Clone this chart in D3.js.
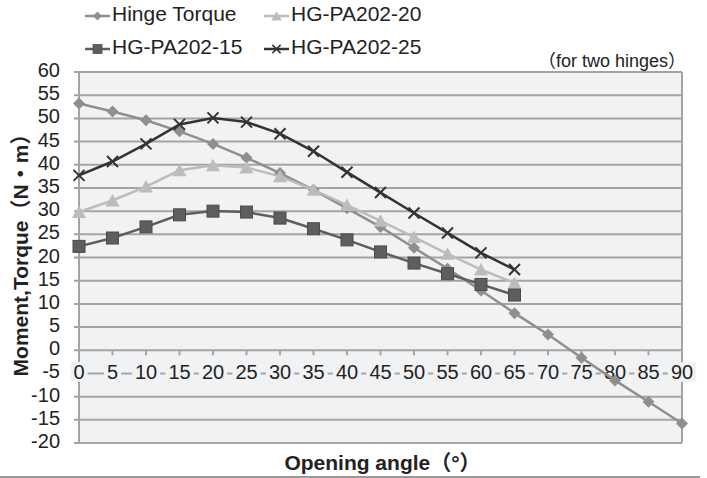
<!DOCTYPE html>
<meta charset="utf-8">
<title>Hinge torque</title>
<style>
    body { margin: 0; background: #fff; }
    svg { display: block; font-family: "Liberation Sans", Arial, "Noto Sans CJK JP", sans-serif; }
    .grid line { stroke: #a4a4a4; stroke-width: 2; }
    .tick-lab { font-size: 20px; fill: #222; }
    .series .curve { fill: none; stroke-width: 2.5; }
</style>
<body>
<script src="https://cdn.jsdelivr.net/npm/d3@7"></script>
<script>
    // opening angle categories
    var angles = [0, 5, 10, 15, 20, 25, 30, 35, 40, 45, 50, 55, 60, 65, 70, 75, 80, 85, 90];
    var yTicks = [60, 55, 50, 45, 40, 35, 30, 25, 20, 15, 10, 5, 0, -5, -10, -15, -20];

    var hingeTorque = [53.2, 51.5, 49.6, 47.2, 44.5, 41.5, 38.2, 34.6, 30.6, 26.6, 22.1, 17.6, 12.9, 8.0, 3.4, -1.6, -6.5, -11.1, -15.8];
    var hg15 = [22.4, 24.2, 26.6, 29.2, 30.0, 29.8, 28.5, 26.2, 23.8, 21.2, 18.8, 16.5, 14.2, 11.9];
    var hg20 = [29.8, 32.3, 35.3, 38.8, 39.9, 39.4, 37.5, 34.6, 31.3, 27.9, 24.4, 20.8, 17.4, 14.5];
    var hg25 = [37.7, 40.7, 44.5, 48.7, 50.1, 49.2, 46.7, 42.9, 38.4, 34.0, 29.6, 25.3, 21.0, 17.4];

    var series = [
        {name: "Hinge Torque", values: hingeTorque, color: "#8f8f8f", marker: "diamond"},
        {name: "HG-PA202-20", values: hg20, color: "#bcbcbc", marker: "triangle"},
        {name: "HG-PA202-15", values: hg15, color: "#5e5e5e", marker: "square"},
        {name: "HG-PA202-25", values: hg25, color: "#333333", marker: "cross"}
    ];

    var W = 707, H = 478;
    var pLeft = 79, pRight = 682, pTop = 72, pBottom = 443;
    var plotBg = "#f1f2f4";

    var svg = d3.select("body").append("svg").attr("width", W).attr("height", H);

    var x = d3.scalePoint().domain(angles).range([pLeft, pRight]).padding(0);
    var y = d3.scaleLinear().domain([-20, 60]).range([pBottom, pTop]);

    svg.append("rect").attr("x", pLeft).attr("y", pTop)
        .attr("width", pRight - pLeft).attr("height", pBottom - pTop)
        .attr("fill", plotBg);

    // horizontal gridlines with small ticks to the left
    svg.append("g").attr("class", "grid")
        .selectAll("line").data(yTicks).enter().append("line")
        .attr("x1", pLeft - 5).attr("x2", pRight)
        .attr("y1", d => y(d)).attr("y2", d => y(d));

    // frame left / right
    svg.append("line").attr("x1", pLeft).attr("x2", pLeft).attr("y1", pTop).attr("y2", pBottom)
        .attr("stroke", "#a4a4a4").attr("stroke-width", 2);
    svg.append("line").attr("x1", pRight).attr("x2", pRight).attr("y1", pTop).attr("y2", pBottom)
        .attr("stroke", "#a4a4a4").attr("stroke-width", 2);

    // x ticks on the zero line
    svg.append("g").selectAll("line").data(angles).enter().append("line")
        .attr("x1", d => x(d)).attr("x2", d => x(d))
        .attr("y1", y(0)).attr("y2", y(0) + 5)
        .attr("stroke", "#a4a4a4").attr("stroke-width", 2);

    // y tick labels
    svg.append("g").selectAll("text").data(yTicks).enter().append("text")
        .attr("class", "tick-lab")
        .attr("x", 60).attr("y", d => y(d) - 2)
        .attr("dy", "0.35em").attr("text-anchor", "end")
        .text(d => d);

    // x tick labels with background boxes, sitting on the -5 gridline
    var xl = svg.append("g").selectAll("g").data(angles).enter().append("g")
        .attr("transform", d => "translate(" + x(d) + "," + 372 + ")");
    xl.append("text").attr("class", "tick-lab")
        .attr("text-anchor", "middle").attr("dy", "0.35em")
        .text(d => d);
    xl.each(function() {
        var g = d3.select(this);
        var b = g.select("text").node().getBBox();
        g.insert("rect", "text")
            .attr("x", b.x - 3).attr("y", -10)
            .attr("width", b.width + 6).attr("height", 20)
            .attr("fill", plotBg);
    });

    // series
    var line = d3.line().x((d, i) => x(angles[i])).y(d => y(d));

    function drawMarker(g, type, color) {
        if (type === "diamond") {
            g.append("path").attr("d", "M0,-6L6,0L0,6L-6,0Z").style("fill", color);
        } else if (type === "square") {
            g.append("rect").attr("x", -6).attr("y", -6).attr("width", 12).attr("height", 12)
                .style("fill", color).attr("stroke", "#4a4a4a").attr("stroke-width", 1);
        } else if (type === "triangle") {
            g.append("path").attr("d", "M0,-6.5L7,6L-7,6Z").style("fill", color);
        } else {
            g.append("path").attr("d", "M-5.5,-5.5L5.5,5.5M-5.5,5.5L5.5,-5.5")
                .style("fill", "none").attr("stroke", color).attr("stroke-width", 2);
        }
    }

    var sg = svg.selectAll(".series").data(series).enter().append("g").attr("class", "series");
    sg.append("path").attr("class", "curve").attr("d", d => line(d.values)).attr("stroke", d => d.color);
    sg.each(function(s) {
        d3.select(this).selectAll("g.m").data(s.values).enter().append("g")
            .attr("class", "m")
            .attr("transform", (d, i) => "translate(" + x(angles[i]) + "," + y(d) + ")")
            .each(function() { drawMarker(d3.select(this), s.marker, s.color); });
    });

    // legend
    var legendPos = [
        {s: series[0], lx: 85, ly: 16},
        {s: series[1], lx: 264, ly: 16},
        {s: series[2], lx: 85, ly: 49},
        {s: series[3], lx: 264, ly: 49}
    ];
    var lg = svg.append("g").selectAll("g").data(legendPos).enter().append("g")
        .attr("transform", d => "translate(" + d.lx + "," + d.ly + ")");
    lg.append("line").attr("x1", 0).attr("x2", 25).attr("y1", 0).attr("y2", 0)
        .attr("stroke", d => d.s.color).attr("stroke-width", 2.5);
    lg.each(function(d) {
        var m = d3.select(this).append("g").attr("transform", "translate(12.5,0) scale(0.75)");
        drawMarker(m, d.s.marker, d.s.color);
    });
    lg.append("text").attr("x", 27).attr("y", -2).attr("dy", "0.35em")
        .attr("font-size", 21).attr("fill", "#222").text(d => d.s.name);

    // note
    svg.append("text").attr("x", 686).attr("y", 61).attr("dy", "0.35em")
        .attr("text-anchor", "end").attr("font-size", 18).attr("fill", "#222")
        .text("（for two hinges）");

    // axis titles
    svg.append("text").attr("x", (pLeft + pRight) / 2 + 2).attr("y", 463).attr("dy", "0.35em")
        .attr("text-anchor", "middle").attr("font-size", 21).attr("font-weight", "bold")
        .attr("fill", "#222").text("Opening angle（°）");
    svg.append("text").attr("transform", "translate(21," + 250 + ") rotate(-90)")
        .attr("dy", "0.35em").attr("text-anchor", "middle")
        .attr("font-size", 21).attr("font-weight", "bold").attr("fill", "#222")
        .text("Moment,Torque（N・m）");

    // bottom rule
    svg.append("line").attr("x1", 0).attr("x2", 700).attr("y1", 477).attr("y2", 477)
        .attr("stroke", "#777").attr("stroke-width", 1.5);
</script>
</body>
